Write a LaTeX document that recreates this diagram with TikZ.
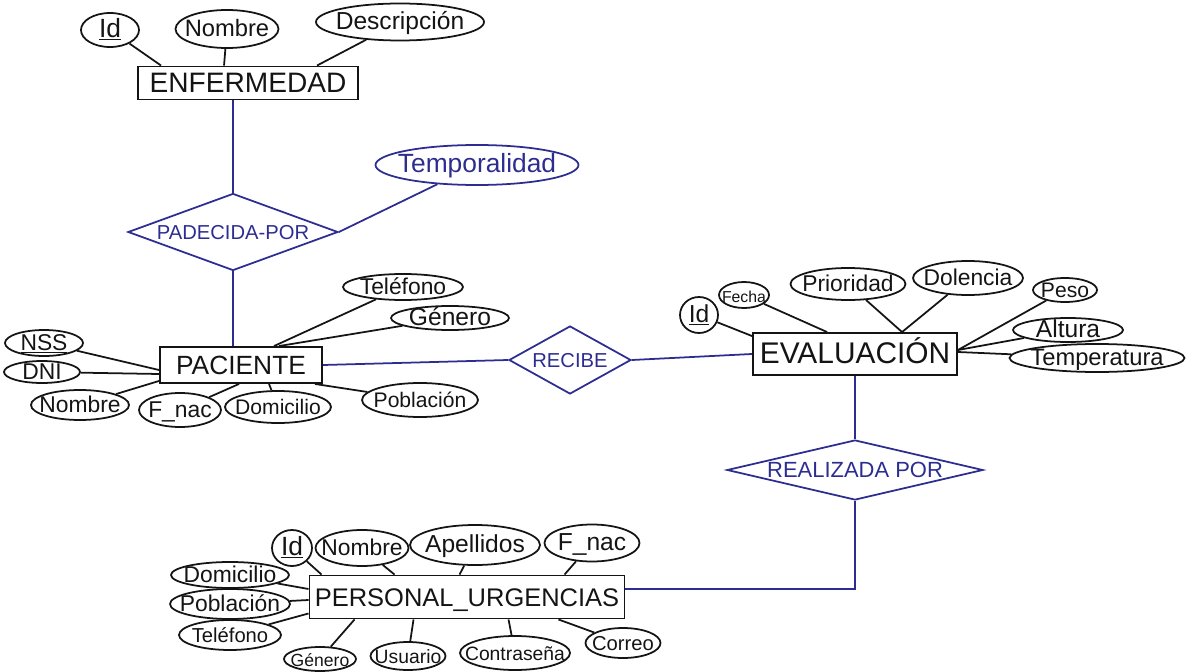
\documentclass[tikz,border=0pt]{standalone}
\usepackage{fontspec}
\setmainfont{Liberation Sans}
\usetikzlibrary{shapes.geometric,calc}
\definecolor{pen}{RGB}{20,20,20}
\definecolor{bpen}{RGB}{45,45,145}
\newcommand{\mb}[1]{\makebox[0pt]{#1}}
\begin{document}
\begin{tikzpicture}[x=0.02cm,y=-0.02cm,
  wh/.style 2 args={minimum width=#1*0.02cm,minimum height=#2*0.02cm},
  ent/.style={draw=pen,line width=1.1pt,rectangle,inner sep=0pt,text height=11pt,text depth=0pt,text=pen,font=\fontsize{16}{18}\selectfont},
  attr/.style={draw=pen,line width=1pt,ellipse,inner sep=0pt,text height=8pt,text depth=0pt,text=pen,font=\fontsize{12}{14}\selectfont},
  rel/.style={draw=bpen,line width=1pt,diamond,inner sep=0pt,text height=8pt,text depth=0pt,text=bpen,font=\fontsize{11.5}{13}\selectfont},
  ln/.style={draw=pen,line width=1pt},
  bln/.style={draw=bpen,line width=1pt}]
\useasboundingbox (0,0) rectangle (1189,672);

% ---------- entities ----------
\node[ent,wh={220}{33}] (enf) at (248,83) {\mb{ENFERMEDAD}};
\node[ent,wh={162}{36},font=\fontsize{15}{17}\selectfont] (pac) at (241,365) {\mb{PACIENTE}};
\node[ent,wh={204}{42},font=\fontsize{17}{19}\selectfont] (ev) at (855,354) {\mb{EVALUACIÓN}};
\node[ent,wh={315}{43},font=\fontsize{14.5}{16}\selectfont] (per) at (467,597) {\mb{PERSONAL\_URGENCIAS}};

% ---------- relationships ----------
\node[rel,wh={210}{77}] (pad) at (233,232) {\mb{PADECIDA-POR}};
\node[rel,wh={122}{68}] (rec) at (570,360) {\mb{RECIBE}};
\node[rel,wh={256}{60},font=\fontsize{12.5}{14}\selectfont] (real) at (855,470) {\mb{REALIZADA POR}};
\node[attr,wh={203}{40},draw=bpen,text=bpen,font=\fontsize{15}{17}\selectfont] (temp) at (477,165) {\mb{Temporalidad}};

% ---------- ENFERMEDAD attributes ----------
\node[attr,wh={58}{34},font=\fontsize{15}{17}\selectfont] (eId) at (110,30) {\mb{\underline{Id}}};
\node[attr,wh={103}{38},font=\fontsize{13.5}{15}\selectfont] (eNom) at (227,29) {\mb{Nombre}};
\node[attr,wh={168}{37},font=\fontsize{14}{16}\selectfont] (eDes) at (400,22) {\mb{Descripción}};
\draw[ln] (eId) -- ($(enf.north west)+(24,0)$);
\draw[ln] (eNom) -- ($(enf.north west)+(87,0)$);
\draw[ln] (eDes) -- ($(enf.north west)+(180,0)$);

% ---------- PACIENTE attributes ----------
\node[attr,wh={78}{26},font=\fontsize{13}{15}\selectfont] (pNss) at (44,343) {\mb{\underline{NSS}}};
\node[attr,wh={76}{22},font=\fontsize{13}{15}\selectfont] (pDni) at (42,372) {\mb{DNI}};
\node[attr,wh={98}{30},font=\fontsize{13}{15}\selectfont] (pNom) at (80,405) {\mb{Nombre}};
\node[attr,wh={82}{34},font=\fontsize{13}{15}\selectfont] (pFna) at (180,410) {\mb{F\_nac}};
\node[attr,wh={106}{32}] (pDom) at (278,407) {\mb{Domicilio}};
\node[attr,wh={116}{34}] (pPob) at (420,400) {\mb{Población}};
\node[attr,wh={120}{26},font=\fontsize{13}{15}\selectfont] (pTel) at (403,287) {\mb{Teléfono}};
\node[attr,wh={118}{24},font=\fontsize{14}{16}\selectfont] (pGen) at (450,318) {\mb{Género}};
\draw[ln] (pNss) -- ($(pac.west)+(0,5)$);
\draw[ln] (pDni) -- ($(pac.west)+(0,9)$);
\draw[ln] (pNom) -- ($(pac.south west)+(0,-3)$);
\draw[ln] (pFna) -- ($(pac.south west)+(80,0)$);
\draw[ln] (pDom) -- ($(pac.south west)+(110,0)$);
\draw[ln] (pPob) -- ($(pac.south east)+(-8,0)$);
\draw[ln] (pTel) -- ($(pac.north west)+(115,0)$);
\draw[ln] (pGen) -- ($(pac.north west)+(120,0)$);

% ---------- EVALUACION attributes ----------
\node[attr,wh={38}{36},font=\fontsize{14}{16}\selectfont] (vId) at (699,315) {\mb{\underline{Id}}};
\node[attr,wh={50}{26},font=\fontsize{9}{11}\selectfont] (vFec) at (744,295) {\mb{Fecha}};
\node[attr,wh={115}{32},font=\fontsize{13}{15}\selectfont] (vPri) at (848,284) {\mb{Prioridad}};
\node[attr,wh={110}{34},font=\fontsize{13}{15}\selectfont] (vDol) at (968,278) {\mb{Dolencia}};
\node[attr,wh={64}{24}] (vPes) at (1065,290) {\mb{Peso}};
\node[attr,wh={110}{24},font=\fontsize{14}{16}\selectfont] (vAlt) at (1068,330) {\mb{Altura}};
\node[attr,wh={175}{28},font=\fontsize{13.5}{15}\selectfont] (vTem) at (1097,358) {\mb{Temperatura}};
\draw[ln] (vId) -- ($(ev.north west)+(0,4)$);
\draw[ln] (vFec) -- ($(ev.north west)+(75,0)$);
\draw[ln] (vPri) -- ($(ev.north west)+(150,0)$);
\draw[ln] (vDol) -- ($(ev.north west)+(150,0)$);
\draw[ln] (vPes) -- ($(ev.east)+(0,-4)$);
\draw[ln] (vAlt) -- ($(ev.east)+(0,-4)$);
\draw[ln] (vTem) -- ($(ev.east)+(0,-2)$);

% ---------- PERSONAL_URGENCIAS attributes ----------
\node[attr,wh={40}{36},font=\fontsize{15}{17}\selectfont] (rId) at (292,548) {\mb{\underline{Id}}};
\node[attr,wh={93}{36},font=\fontsize{13}{15}\selectfont] (rNom) at (362,548) {\mb{Nombre}};
\node[attr,wh={130}{40},font=\fontsize{14}{16}\selectfont] (rApe) at (475,545) {\mb{Apellidos}};
\node[attr,wh={95}{37},font=\fontsize{14}{16}\selectfont] (rFna) at (592,543) {\mb{F\_nac}};
\node[attr,wh={118}{26},font=\fontsize{13}{15}\selectfont] (rDom) at (230,575) {\mb{Domicilio}};
\node[attr,wh={120}{30},font=\fontsize{13}{15}\selectfont] (rPob) at (230,604) {\mb{Población}};
\node[attr,wh={102}{30},font=\fontsize{11.5}{13}\selectfont] (rTel) at (230,635) {\mb{Teléfono}};
\node[attr,wh={72}{24},font=\fontsize{10}{12}\selectfont] (rGen) at (320,659) {\mb{Género}};
\node[attr,wh={75}{28},font=\fontsize{11}{12}\selectfont] (rUsu) at (408,656) {\mb{Usuario}};
\node[attr,wh={110}{34},font=\fontsize{11}{12}\selectfont] (rCon) at (515,653) {\mb{Contraseña}};
\node[attr,wh={75}{30},font=\fontsize{11.5}{13}\selectfont] (rCor) at (623,643) {\mb{Correo}};
\draw[ln] (rId) -- ($(per.north west)+(13,0)$);
\draw[ln] (rNom) -- ($(per.north west)+(86,0)$);
\draw[ln] (rApe) -- ($(per.north west)+(151,0)$);
\draw[ln] (rFna) -- ($(per.north west)+(256,0)$);
\draw[ln] (rDom) -- ($(per.west)+(0,-8)$);
\draw[ln] (rPob) -- ($(per.west)+(0,3)$);
\draw[ln] (rTel) -- ($(per.south west)+(0,-6)$);
\draw[ln] (rGen) -- ($(per.south west)+(46,0)$);
\draw[ln] (rUsu) -- ($(per.south west)+(105,0)$);
\draw[ln] (rCon) -- ($(per.south west)+(200,0)$);
\draw[ln] (rCor) -- ($(per.south east)+(-67,0)$);

% ---------- relationship connectors ----------
\draw[bln] (pad.north |- enf.south) -- (pad.north);
\draw[bln] (pad.south) -- (pad.south |- pac.north);
\draw[bln] (pad.east) -- (temp);
\draw[bln] (pac.east) -- (rec.west);
\draw[bln] (rec.east) -- (ev.west);
\draw[bln] (ev.south) -- (real.north);
\draw[bln] (real.south) |- ($(per.east)+(0,-8)$);
\end{tikzpicture}
\end{document}
